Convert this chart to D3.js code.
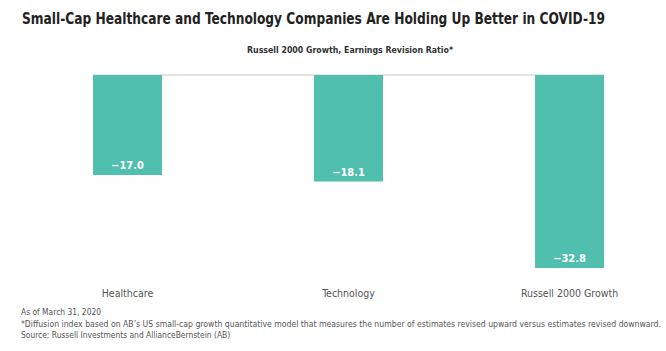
<!DOCTYPE html>
<html>
<head>
<meta charset="utf-8">
<script src="https://cdn.jsdelivr.net/npm/d3@7"></script>
<style>
  body { margin: 0; background: #fff; }
  text { font-family: "DejaVu Sans Condensed", "DejaVu Sans", sans-serif; }
</style>
</head>
<body>
<div id="chart"></div>
<script>
const categories = ["Healthcare", "Technology", "Russell 2000 Growth"]
const values = [-17.0, -18.1, -32.8]
const title = "Small-Cap Healthcare and Technology Companies Are Holding Up Better in COVID-19"
const subtitle = "Russell 2000 Growth, Earnings Revision Ratio*"
const notes = [
  "As of March 31, 2020",
  "*Diffusion index based on AB\u2019s US small-cap growth quantitative model that measures the number of estimates revised upward versus estimates revised downward.",
  "Source: Russell Investments and AllianceBernstein (AB)"
]

const width = 666, height = 351
const color = "#50bfae"

const svg = d3.select("#chart").append("svg")
  .attr("width", width)
  .attr("height", height)
  .attr("viewBox", [0, 0, width, height])

const x = d3.scaleBand()
  .domain(categories)
  .range([93, 604])
  .paddingInner(0.688)
  .paddingOuter(0)

const y = d3.scaleLinear()
  .domain([0, -32.8])
  .range([75, 268])

// title
svg.append("text")
  .attr("x", 22).attr("y", 24.5)
  .attr("font-size", 14).attr("font-weight", "bold")
  .attr("fill", "#222")
  .attr("textLength", 583).attr("lengthAdjust", "spacingAndGlyphs")
  .style("transform-origin", "22px 24.5px")
  .style("transform", "scaleY(1.1)")
  .text(title)

svg.append("text")
  .attr("x", 350).attr("y", 53)
  .attr("text-anchor", "middle")
  .attr("font-size", 9.5).attr("font-weight", "bold")
  .attr("fill", "#333")
  .attr("textLength", 206).attr("lengthAdjust", "spacingAndGlyphs")
  .text(subtitle)

// zero line
svg.append("line")
  .attr("x1", x.range()[0]).attr("x2", x.range()[1])
  .attr("y1", y(0)).attr("y2", y(0))
  .attr("stroke", "#c8c8c8").attr("stroke-width", 1)

const bars = svg.append("g")
  .selectAll("g")
  .data(categories)
  .join("g")

bars.append("rect")
  .attr("x", d => x(d))
  .attr("width", x.bandwidth())
  .attr("y", y(0))
  .attr("height", (d, i) => y(values[i]) - y(0))
  .attr("fill", color)

bars.append("text")
  .attr("x", d => x(d) + x.bandwidth() / 2)
  .attr("y", (d, i) => y(values[i]) - 6)
  .attr("text-anchor", "middle")
  .attr("font-size", 11).attr("font-weight", "bold")
  .attr("fill", "#fff")
  .text((d, i) => d3.format(".1f")(values[i]).replace("-", "\u2013"))

// category axis
const xAxis = d3.axisBottom(x).tickSize(0).tickPadding(0)
svg.append("g")
  .attr("transform", "translate(0,290)")
  .call(xAxis)
  .call(g => g.select(".domain").remove())
  .selectAll(".tick text")
  .attr("dy", "0.71em")
  .attr("font-family", "\"DejaVu Sans Condensed\", sans-serif")
  .attr("font-size", 10.5)
  .attr("fill", "#555")

// notes
svg.append("g")
  .selectAll("text")
  .data(notes)
  .join("text")
  .attr("x", 21)
  .attr("y", (d, i) => 315 + i * 11.5)
  .attr("font-family", "\"Liberation Sans\", Arial, sans-serif")
  .attr("font-size", 8.4)
  .attr("fill", "#555")
  .each(function (d, i) {
    if (i === 1) d3.select(this).attr("textLength", 640).attr("lengthAdjust", "spacingAndGlyphs")
  })
  .text(d => d)
</script>
</body>
</html>
